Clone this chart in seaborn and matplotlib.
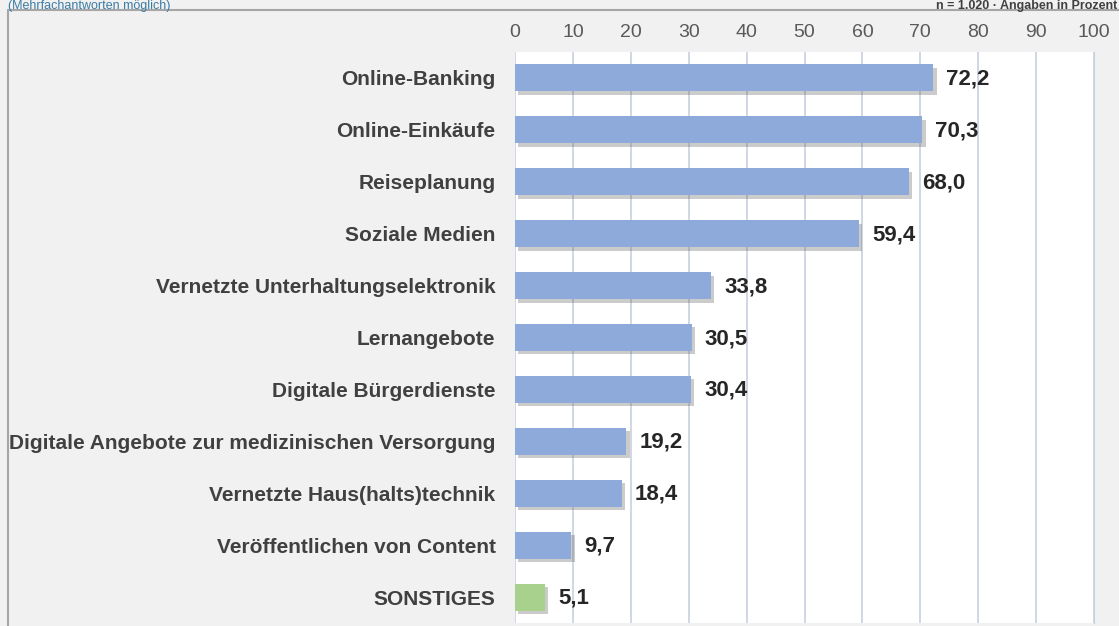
import pandas as pd
import matplotlib.pyplot as plt
import matplotlib.patheffects as pe
from matplotlib.patches import Rectangle
import seaborn as sns

# data
categories = ['Online-Banking', 'Online-Einkäufe', 'Reiseplanung', 'Soziale Medien',
              'Vernetzte Unterhaltungselektronik', 'Lernangebote', 'Digitale Bürgerdienste',
              'Digitale Angebote zur medizinischen Versorgung', 'Vernetzte Haus(halts)technik',
              'Veröffentlichen von Content', 'SONSTIGES']
values = [72.2, 70.3, 68.0, 59.4, 33.8, 30.5, 30.4, 19.2, 18.4, 9.7, 5.1]
groups = ['main'] * 10 + ['other']
ticks = list(range(0, 101, 10))

df = pd.DataFrame({'Kategorie': categories, 'Wert': values, 'Gruppe': groups})

sns.set_style('white')
plt.rcParams['font.family'] = ['Arial', 'Liberation Sans', 'DejaVu Sans']

fig = plt.figure(figsize=(11.19, 6.26), dpi=100, facecolor='#f1f1f1')
ax = fig.add_axes([515 / 1119, 1 - 623 / 626, (1094 - 515) / 1119, (623 - 52) / 626])
ax.set_facecolor('white')

# outer frame, running off the right and bottom edge like in the reference
fig.patches.append(Rectangle((8 / 1119, -0.01), 1.1, 1 - 10 / 626 + 0.01, transform=fig.transFigure,
                             fill=False, edgecolor='#a6a6a6', linewidth=1.5, zorder=0))

sns.barplot(data=df, x='Wert', y='Kategorie', hue='Gruppe', orient='h', dodge=False,
            palette={'main': '#8eaadb', 'other': '#a9d18e'}, saturation=1, width=0.52,
            linewidth=0, legend=False, ax=ax)

# soft drop shadow under the bars
for p in ax.patches:
    p.set_path_effects([pe.SimplePatchShadow(offset=(2.5, -2.5), shadow_rgbFace='#555555', alpha=0.3),
                        pe.Normal()])
    p.set_zorder(3)

for i, v in enumerate(values):
    ax.text(v + 2.3, i + 0.02, f'{v:.1f}'.replace('.', ','), va='center', ha='left',
            fontsize=16, fontweight='bold', color='#262626')

ax.set_xlim(0, 100)
ax.set_ylim(10.5, -0.5)
ax.set_xticks(ticks)
ax.xaxis.tick_top()
ax.tick_params(axis='x', length=0, pad=8, labelsize=14, labelcolor='#595959')
ax.tick_params(axis='y', length=0, pad=14)
for lab in ax.get_yticklabels():
    lab.set_fontweight('bold')
    lab.set_fontsize(15)
    lab.set_color('#404040')
ax.grid(axis='x', color='#c9d1de', linewidth=1.2, zorder=0)
ax.set_axisbelow(True)
ax.set_xlabel('')
ax.set_ylabel('')
for s in ax.spines.values():
    s.set_visible(False)
ax.spines['right'].set_visible(True)
ax.spines['right'].set_color('#c9d1de')

fig.text(8 / 1119, 1.0, '(Mehrfachantworten möglich)', ha='left', va='top',
         fontsize=9, color='#3a7ca5')
fig.text(0.998, 1.0, 'n = 1.020 · Angaben in Prozent', ha='right', va='top',
         fontsize=9, fontweight='bold', color='#404040')

fig.savefig('out.png', dpi=100, facecolor=fig.get_facecolor())
